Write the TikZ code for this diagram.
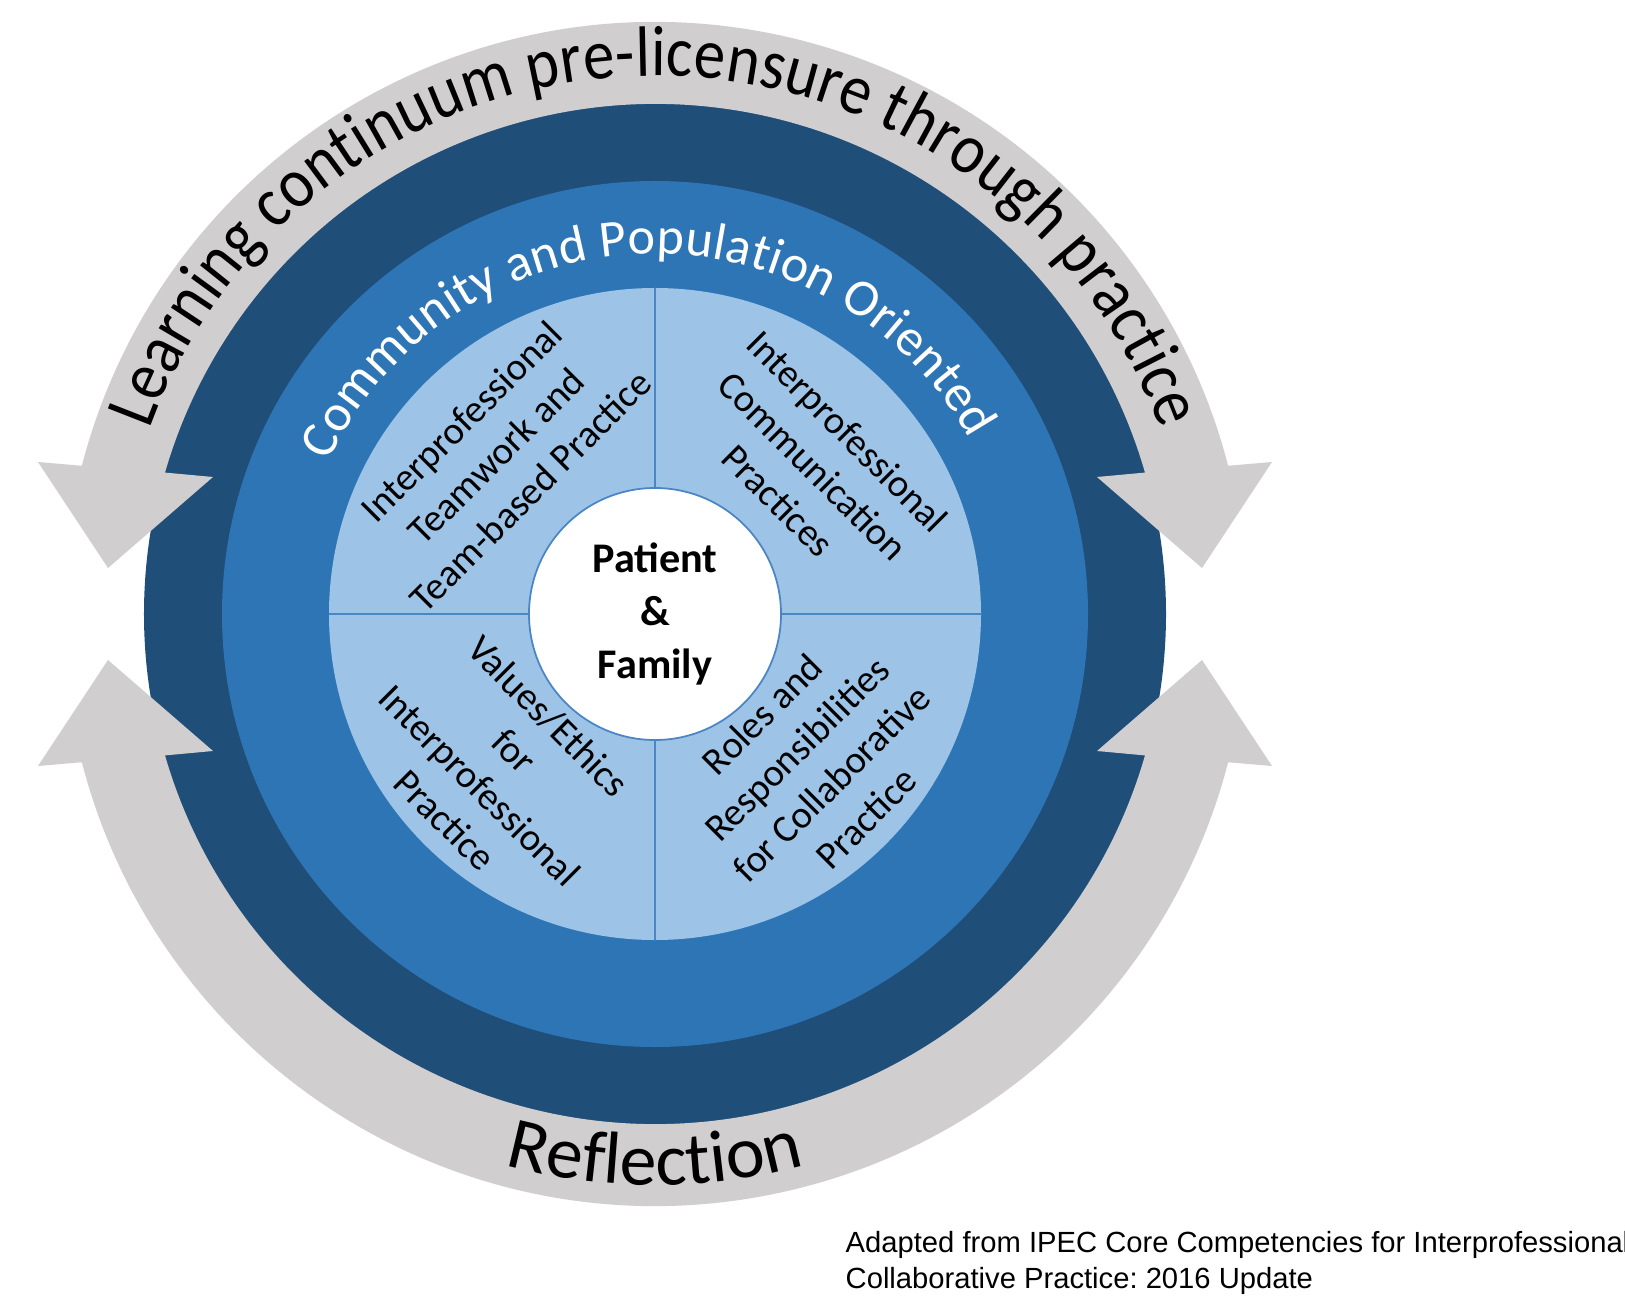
\documentclass[tikz,border=0pt]{standalone}
\usepackage{fontspec}
\setmainfont{Carlito}
\newfontfamily\arcfont[FakeStretch=0.88]{Carlito}
\newfontfamily\capfont{Liberation Sans}
\usetikzlibrary{decorations.text}
\definecolor{darkring}{HTML}{1F4E79}
\definecolor{midring}{HTML}{2E75B6}
\definecolor{lightfill}{HTML}{9DC3E6}
\definecolor{arrowgray}{HTML}{D0CECE}
\definecolor{divider}{HTML}{4A86C5}
\begin{document}
\begin{tikzpicture}[x=0.01cm,y=0.01cm,
  quad/.style={align=center, font=\fontsize{11}{13.9}\selectfont, text=black, inner sep=0pt},
  captext/.style={anchor=base west, inner sep=0pt, font=\capfont\frenchspacing\fontsize{8.3}{10}\selectfont},
  graybody/.style={fill=arrowgray}]
\useasboundingbox (-655,-689) rectangle (970,614);
\fill[white] (-655,-689) rectangle (970,614);
% dark outer ring
\fill[darkring] (0,0) circle[radius=511];
% top double arrow
\fill[graybody] (165.5:592) arc[start angle=165.5, end angle=14.5, radius=592]
  -- (617,152) -- (547,46) -- (442,137) -- (16.1:510)
  arc[start angle=16.1, end angle=163.9, radius=510]
  -- (-442,137) -- (-547,46) -- (-617,152) -- cycle;
% bottom double arrow
\fill[graybody] (-165.5:592) arc[start angle=-165.5, end angle=-14.5, radius=592]
  -- (617,-152) -- (547,-46) -- (442,-137) -- (-16.1:510)
  arc[start angle=-16.1, end angle=-163.9, radius=510]
  -- (-442,-137) -- (-547,-46) -- (-617,-152) -- cycle;
% middle ring and inner disc
\fill[midring] (0,0) circle[radius=433];
\fill[lightfill] (0,0) circle[radius=326];
\draw[divider, line width=0.5pt] (0,326) -- (0,-326);
\draw[divider, line width=0.5pt] (-326,0) -- (326,0);
\filldraw[fill=white, draw=divider, line width=0.5pt] (0,0) circle[radius=126];
% curved texts
\path[decorate, decoration={text along path, text align={fit to path},
  text={|\arcfont\fontsize{20.3}{24}\selectfont|Learning continuum pre-licensure through practice}}]
  (160:538) arc[start angle=160, end angle=20, radius=538];
\path[decorate, decoration={text along path, text align=center,
  text={|\fontsize{21}{25}\selectfont|Reflection}}]
  (200:571) arc[start angle=200, end angle=340, radius=571];
\path[decorate, decoration={text along path, text align={fit to path}, text color=white,
  text={|\fontsize{14.8}{17}\selectfont|Community and Population Oriented}}]
  (155:360) arc[start angle=155, end angle=29, radius=360];
% quadrant texts
\node[quad, rotate=45] (q1) at (-159,158) {Interprofessional\\Teamwork and\\Team-based Practice};
\node[quad, rotate=-45] (q2) at (158,148) {Interprofessional\\Communication\\Practices};
\node[quad, rotate=-45] (q3) at (-158,-154) {Values/Ethics\\for\\Interprofessional\\Practice};
\node[quad, rotate=45] (q4) at (159,-152) {Roles and\\Responsibilities\\for Collaborative\\Practice};
% centre
\node[align=center, inner sep=0pt, font=\bfseries\fontsize{12}{15.1}\selectfont] (pf) at (0,0) {Patient\\\&\\Family};
% caption
\node[captext] (cap1) at (190,-638) {Adapted from IPEC Core Competencies for Interprofessional};
\node[captext] (cap2) at (190,-674) {Collaborative Practice: 2016 Update};
\end{tikzpicture}
\end{document}
